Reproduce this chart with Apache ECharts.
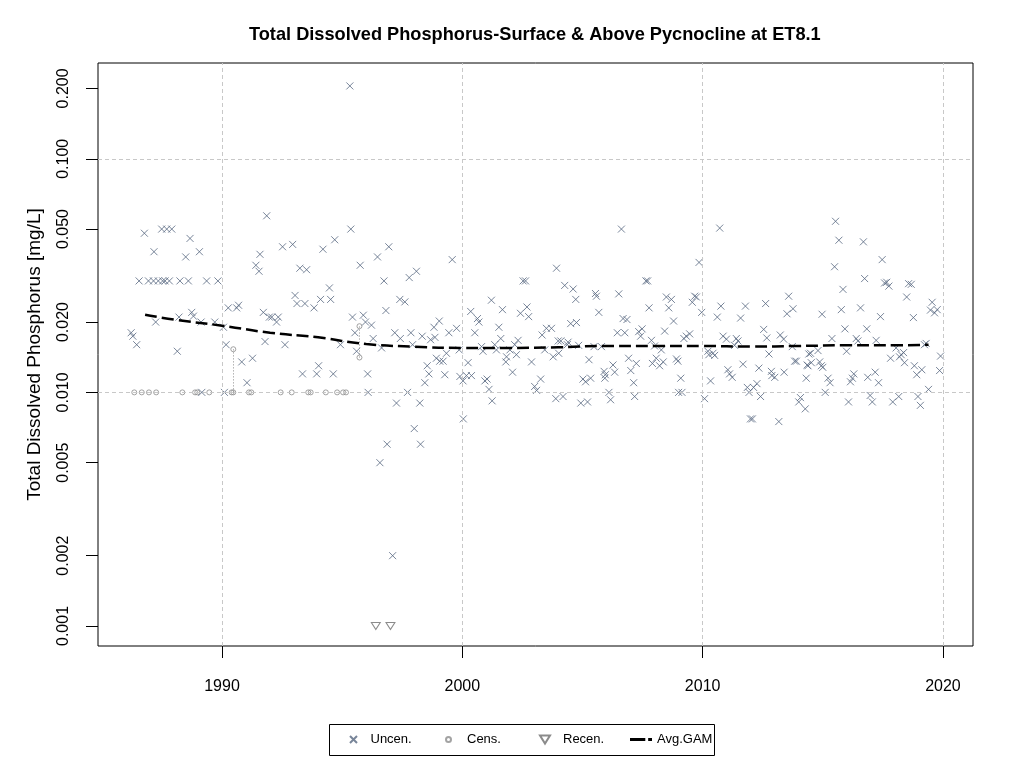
<!DOCTYPE html>
<html>
<head>
    <meta charset="UTF-8">
    <title>TDP ET8.1</title>
    <style>
        html, body { margin: 0; padding: 0; background: #fff; }
        #container { width: 1024px; height: 768px; }
    </style>
</head>
<body>
    <div id="container"></div>
    <script src="https://cdn.jsdelivr.net/npm/echarts@6/dist/echarts.min.js"></script>
    <script type="text/javascript">
        // uncensored samples (decimal year, mg/L)
        var uncenYears = [
            1986.22, 1986.29, 1986.45, 1986.55, 1986.77, 1986.94, 1987.15, 1987.17, 1987.24, 1987.35,
            1987.49, 1987.53, 1987.63, 1987.70, 1987.81, 1987.91, 1988.14, 1988.21, 1988.25, 1988.49,
            1988.60, 1988.67, 1988.74, 1988.81, 1989.06, 1989.13, 1989.16, 1989.36, 1989.70, 1989.83,
            1990.06, 1990.10, 1990.17, 1990.26, 1990.61, 1990.69, 1990.82, 1991.04,
            1991.27, 1991.41, 1991.54, 1991.58, 1991.72, 1991.79, 1991.86, 1991.97, 1992.07, 1992.27,
            1992.34, 1992.52, 1992.62, 1992.94, 1993.04, 1993.12, 1993.24, 1993.35, 1993.45, 1993.52,
            1993.83, 1993.94, 1994.02, 1994.10, 1994.20, 1994.47, 1994.52, 1994.63, 1994.69, 1994.93,
            1995.32, 1995.36, 1995.43, 1995.53, 1995.60, 1995.75, 1995.88, 1995.97, 1996.06, 1996.08,
            1996.22, 1996.29, 1996.47, 1996.57, 1996.64, 1996.74, 1996.82, 1996.87, 1996.94, 1997.10,
            1997.19, 1997.26, 1997.40, 1997.42, 1997.61, 1997.72, 1997.79, 1997.86, 1997.93, 1998.00,
            1998.09, 1998.23, 1998.26, 1998.33, 1998.44, 1998.54, 1998.61, 1998.68, 1998.82, 1998.86,
            1998.92, 1999.04, 1999.06, 1999.20, 1999.27, 1999.34, 1999.44, 1999.58, 1999.76, 1999.87,
            1999.90, 2000.03, 2000.04, 2000.17, 2000.24, 2000.35, 2000.38, 2000.52, 2000.63, 2000.69,
            2000.80, 2000.86, 2000.94, 2001.03, 2001.11, 2001.21, 2001.24, 2001.35, 2001.42, 2001.52,
            2001.60, 2001.67, 2001.81, 2001.84, 2001.98, 2002.09, 2002.18, 2002.25, 2002.32, 2002.42,
            2002.53, 2002.63, 2002.69, 2002.76, 2002.88, 2003.01, 2003.09, 2003.26, 2003.32, 2003.43,
            2003.50, 2003.71, 2003.78, 2003.89, 2003.92, 2003.99, 2004.01,
            2004.10, 2004.19, 2004.26, 2004.37, 2004.40, 2004.51, 2004.61, 2004.72, 2004.75, 2004.84,
            2004.93, 2005.02, 2005.13, 2005.21, 2005.27, 2005.34, 2005.48, 2005.54, 2005.58, 2005.68,
            2005.79, 2005.90, 2005.93, 2005.95, 2006.10, 2006.17, 2006.27, 2006.34, 2006.45, 2006.51,
            2006.62, 2006.69, 2006.76, 2006.85, 2006.92, 2007.01, 2007.13, 2007.17, 2007.24, 2007.34,
            2007.42, 2007.48, 2007.64, 2007.71, 2007.77, 2007.87, 2007.91, 2008.00, 2008.07, 2008.21,
            2008.28, 2008.36, 2008.42, 2008.49, 2008.59, 2008.70, 2008.79, 2008.91, 2008.97, 2009.00,
            2009.09, 2009.14,
            2009.22, 2009.32, 2009.46, 2009.57, 2009.67, 2009.74, 2009.85, 2009.96, 2010.08, 2010.22,
            2010.26, 2010.33, 2010.43, 2010.50, 2010.61, 2010.71, 2010.76, 2010.85, 2010.99, 2011.05,
            2011.12, 2011.23, 2011.33, 2011.40, 2011.47, 2011.58, 2011.68, 2011.78, 2011.86, 2011.93,
            2011.99, 2012.07, 2012.12, 2012.26, 2012.34, 2012.41, 2012.54, 2012.62, 2012.67, 2012.76,
            2012.86, 2012.88, 2013.00, 2013.17, 2013.23, 2013.37, 2013.39, 2013.51, 2013.58, 2013.73,
            2013.76, 2013.83, 2013.90, 2014.00, 2014.07, 2014.27, 2014.31, 2014.35, 2014.42,
            2014.38, 2014.49, 2014.52, 2014.80, 2014.87, 2014.94, 2014.97, 2015.00, 2015.10, 2015.22,
            2015.30, 2015.38, 2015.49, 2015.53, 2015.67, 2015.77, 2015.84, 2015.92, 2015.99, 2016.07,
            2016.15, 2016.23, 2016.29, 2016.39, 2016.46, 2016.57, 2016.69, 2016.74, 2016.83, 2016.87,
            2016.97, 2017.06, 2017.18, 2017.22, 2017.32, 2017.40, 2017.47, 2017.57, 2017.66, 2017.75,
            2017.82, 2017.91, 2018.05, 2018.16, 2018.19, 2018.26, 2018.36, 2018.40, 2018.49, 2018.57,
            2018.68, 2018.77, 2018.81, 2018.91, 2018.96, 2019.06, 2019.12, 2019.23, 2019.30, 2019.40,
            2019.48, 2019.55, 2019.65, 2019.76, 2019.86, 2019.90
        ];
        var uncenValues = [
            0.018, 0.0174, 0.016, 0.030, 0.048, 0.030, 0.030, 0.040, 0.020, 0.030,
            0.050, 0.030, 0.030, 0.050, 0.030, 0.050, 0.015, 0.021, 0.030, 0.038,
            0.030, 0.0456, 0.022, 0.0212, 0.040, 0.020, 0.010, 0.030, 0.020, 0.030,
            0.019, 0.010, 0.016, 0.023, 0.023, 0.0236, 0.0135, 0.011,
            0.014, 0.035, 0.033, 0.039, 0.022, 0.0165, 0.057, 0.021, 0.021, 0.020,
            0.021, 0.042, 0.016, 0.043, 0.026, 0.024, 0.034, 0.012, 0.024, 0.0335,
            0.023, 0.012, 0.013, 0.025, 0.041, 0.028, 0.025, 0.012, 0.045, 0.016,
            0.205, 0.050, 0.021, 0.018, 0.015, 0.035, 0.0214, 0.020, 0.012, 0.010,
            0.0194, 0.017, 0.038, 0.005, 0.0155, 0.030, 0.0224, 0.006, 0.042, 0.002,
            0.018, 0.009, 0.025, 0.017, 0.0244, 0.010, 0.031, 0.018, 0.016, 0.007,
            0.033, 0.009, 0.006, 0.0174, 0.011, 0.013, 0.012, 0.0168, 0.019, 0.0172,
            0.014, 0.0202, 0.0136, 0.0136, 0.0119, 0.0147, 0.018, 0.037, 0.0188, 0.0152,
            0.0117, 0.0112, 0.0077, 0.0118, 0.0134, 0.0222, 0.0118, 0.018, 0.0207, 0.020,
            0.0157, 0.015, 0.0112, 0.0114, 0.0103, 0.0248, 0.0092, 0.016, 0.0152, 0.019,
            0.017, 0.0226, 0.0135, 0.0142, 0.0152, 0.0122, 0.016, 0.0145, 0.0167, 0.0218,
            0.030, 0.030, 0.0232, 0.0211, 0.0135, 0.0106, 0.0102, 0.0114, 0.0176, 0.0152,
            0.0188, 0.0188, 0.0142, 0.0094, 0.034, 0.0166, 0.0147,
            0.0166, 0.0096, 0.0287, 0.016, 0.0164, 0.0197, 0.0277, 0.025, 0.0199, 0.0159,
            0.009, 0.0114, 0.0111, 0.0091, 0.0138, 0.0115, 0.0157, 0.0265, 0.0258, 0.022,
            0.0157, 0.0123, 0.0115, 0.0119, 0.010, 0.0093, 0.0131, 0.0122, 0.018, 0.0264,
            0.050, 0.0207, 0.018, 0.0205, 0.014, 0.0124, 0.011, 0.0096, 0.0133, 0.0182,
            0.0174, 0.0187, 0.030, 0.030, 0.023, 0.0167, 0.0133, 0.0158, 0.014, 0.013,
            0.0152, 0.0135, 0.0183, 0.0256, 0.023, 0.025, 0.0202, 0.0139, 0.0136, 0.010,
            0.0115, 0.010,
            0.017, 0.0174, 0.0178, 0.0243, 0.0258, 0.0256, 0.036, 0.022, 0.0094, 0.015,
            0.0145, 0.0112, 0.0147, 0.0144, 0.021, 0.0505, 0.0234, 0.0174, 0.0169, 0.0125,
            0.012, 0.0116, 0.0159, 0.017, 0.0166, 0.0208, 0.0132, 0.0234, 0.0105, 0.010,
            0.0077, 0.0077, 0.0105, 0.0109, 0.0127, 0.0096, 0.0186, 0.024, 0.0171, 0.0146,
            0.0123, 0.0118, 0.0116, 0.0075, 0.0176, 0.0169, 0.0122, 0.0217, 0.0258, 0.0157,
            0.0228, 0.0136, 0.0136, 0.0091, 0.0095, 0.0085, 0.0115, 0.0131, 0.0146,
            0.013, 0.0147, 0.0134, 0.0151, 0.0135, 0.013, 0.0216, 0.0128, 0.010, 0.0115,
            0.011, 0.017, 0.0345, 0.054, 0.0448, 0.0226, 0.0276, 0.0187, 0.015, 0.0091,
            0.0111, 0.0115, 0.012, 0.017, 0.0166, 0.023, 0.0441, 0.0307, 0.0187, 0.0116,
            0.0097, 0.0091, 0.0122, 0.0167, 0.011, 0.0211, 0.037, 0.0294, 0.0296, 0.0285,
            0.014, 0.0091, 0.0155, 0.0096, 0.0142, 0.0145, 0.0148, 0.0134, 0.0256, 0.0292,
            0.029, 0.0209, 0.013, 0.0119, 0.0096, 0.0088, 0.0125, 0.016, 0.0162, 0.0103,
            0.0225, 0.0243, 0.0219, 0.0226, 0.0124, 0.0143
        ];

        // censored samples (circles) and their censoring intervals
        var censYears = [1986.35, 1986.66, 1986.96, 1987.26, 1988.35, 1988.88, 1988.97, 1989.47,
            1990.40, 1990.47, 1990.47, 1991.12, 1991.22, 1992.44, 1992.90, 1993.59, 1993.69,
            1994.32, 1994.79, 1995.04, 1995.16, 1995.72, 1995.72];
        var censValues = [0.010, 0.010, 0.010, 0.010, 0.010, 0.010, 0.010, 0.010,
            0.010, 0.010, 0.0153, 0.010, 0.010, 0.010, 0.010, 0.010, 0.010,
            0.010, 0.010, 0.010, 0.010, 0.0141, 0.0192];
        var censIntYears = [1990.47, 1995.72];
        var censIntLow = [0.010, 0.0141];
        var censIntHigh = [0.0153, 0.0192];

        // re-censored samples (triangles)
        var recenYears = [1996.40, 1997.01];
        var recenValues = [0.001, 0.001];

        // average GAM fit
        var gamYears = [1986.8, 1988, 1990, 1992, 1994, 1996, 1998, 2000, 2002, 2004,
            2006, 2008, 2010, 2012, 2014, 2016, 2018, 2019.4];
        var gamValues = [0.0215, 0.0205, 0.0193, 0.0180, 0.0172, 0.0161, 0.0157, 0.0155, 0.0155, 0.0156,
            0.0158, 0.0158, 0.0158, 0.0157, 0.0158, 0.0159, 0.0159, 0.0160];

        var xTicks = [1990, 2000, 2010, 2020];
        var yTicks = [0.001, 0.002, 0.005, 0.01, 0.02, 0.05, 0.1, 0.2];
        var yGrid = [0.001, 0.01, 0.1];

        var FONT = '"Liberation Sans", Arial, sans-serif';
        var CROSS = 'path://M0,0L10,10M10,0L0,10';
        var TRI_DOWN = 'path://M0,0L10,0L5,8Z';
        var GAM_ICON = 'path://M0,0H16V3H0Z M19,0H23V3H19Z';

        function pairs(xs, ys) {
            return xs.map(function (x, i) { return [x, ys[i]]; });
        }

        var gridLines = [];
        xTicks.forEach(function (v) { gridLines.push({ xAxis: v }); });
        yGrid.forEach(function (v) { gridLines.push({ yAxis: v }); });

        var censLines = censIntYears.map(function (x, i) {
            return [{ coord: [x, censIntLow[i]] }, { coord: [x, censIntHigh[i]] }];
        });

        var legendText = { color: '#000', fontSize: 13, fontFamily: FONT };

        var option = {
            animation: false,
            backgroundColor: '#fff',
            title: {
                text: 'Total Dissolved Phosphorus-Surface & Above Pycnocline at ET8.1',
                left: 249,
                top: 26,
                padding: 0,
                textStyle: { fontFamily: FONT, fontSize: 18.2, fontWeight: 'bold', color: '#000' }
            },
            grid: {
                left: 98, right: 51, top: 63, bottom: 122,
                show: true, borderColor: '#000', borderWidth: 1, backgroundColor: 'transparent'
            },
            legend: [
                { data: ['Uncen.'], left: 349, top: 733, padding: 0, itemWidth: 24, itemHeight: 7, textStyle: legendText },
                { data: ['Cens.'], left: 445, top: 733, padding: 0, itemWidth: 27, itemHeight: 5, textStyle: legendText },
                { data: ['Recen.'], left: 539, top: 733, padding: 0, itemWidth: 26, itemHeight: 8, textStyle: legendText },
                {
                    data: [{ name: 'Avg.GAM', icon: GAM_ICON }], left: 630, top: 733, padding: 0,
                    itemWidth: 22, itemHeight: 3, textStyle: legendText,
                    itemStyle: { color: '#000', borderWidth: 0 }
                }
            ],
            graphic: [{
                type: 'rect',
                shape: { x: 329.5, y: 724.5, width: 385, height: 31 },
                style: { fill: 'none', stroke: '#000', lineWidth: 1 },
                silent: true
            }],
            xAxis: {
                type: 'value',
                min: 1984.84,
                max: 2021.25,
                axisLine: { show: false },
                splitLine: { show: false },
                axisTick: { show: true, length: 12, customValues: xTicks, lineStyle: { color: '#000' } },
                axisLabel: {
                    customValues: xTicks, margin: 33,
                    fontFamily: FONT, fontSize: 16, color: '#000',
                    formatter: function (v) { return String(v); }
                }
            },
            yAxis: {
                type: 'log',
                logBase: 10,
                min: 0.000821,
                max: 0.257,
                name: 'Total Dissolved Phosphorus [mg/L]',
                nameLocation: 'middle',
                nameRotate: 90,
                nameGap: 54,
                nameTextStyle: { fontFamily: FONT, fontSize: 19, color: '#000' },
                axisLine: { show: false },
                splitLine: { show: false },
                axisTick: { show: true, length: 12, customValues: yTicks, lineStyle: { color: '#000' } },
                axisLabel: {
                    customValues: yTicks, rotate: 90, margin: 26,
                    fontFamily: FONT, fontSize: 16, color: '#000',
                    formatter: function (v) { return Number(v).toFixed(3); }
                }
            },
            series: [
                {
                    name: 'grid',
                    type: 'line',
                    data: [],
                    z: 1,
                    silent: true,
                    markLine: {
                        silent: true,
                        symbol: ['none', 'none'],
                        label: { show: false },
                        lineStyle: { color: '#c8c8c8', type: [4, 3], width: 1 },
                        data: gridLines
                    }
                },
                {
                    name: 'Cens.',
                    type: 'scatter',
                    z: 3,
                    symbol: 'circle',
                    symbolSize: 5,
                    itemStyle: { color: 'transparent', borderColor: '#8c8c8c', borderWidth: 1 },
                    data: pairs(censYears, censValues),
                    markLine: {
                        silent: true,
                        symbol: ['none', 'none'],
                        label: { show: false },
                        lineStyle: { color: '#8c8c8c', type: [1, 2], width: 1 },
                        data: censLines
                    }
                },
                {
                    name: 'Recen.',
                    type: 'scatter',
                    z: 3,
                    symbol: TRI_DOWN,
                    symbolSize: [9, 7],
                    itemStyle: { color: 'transparent', borderColor: '#6e6e6e', borderWidth: 1 },
                    data: pairs(recenYears, recenValues)
                },
                {
                    name: 'Uncen.',
                    type: 'scatter',
                    z: 4,
                    symbol: CROSS,
                    symbolSize: 7,
                    itemStyle: { color: 'transparent', borderColor: '#56677f', borderWidth: 1 },
                    data: pairs(uncenYears, uncenValues)
                },
                {
                    name: 'Avg.GAM',
                    type: 'line',
                    z: 5,
                    smooth: true,
                    showSymbol: false,
                    symbol: 'none',
                    itemStyle: { color: '#000' },
                    lineStyle: { color: '#000', width: 2.5, type: [12, 5] },
                    data: pairs(gamYears, gamValues)
                }
            ]
        };

        var myChart = echarts.init(document.getElementById('container'));
        myChart.setOption(option);
    </script>
</body>
</html>
